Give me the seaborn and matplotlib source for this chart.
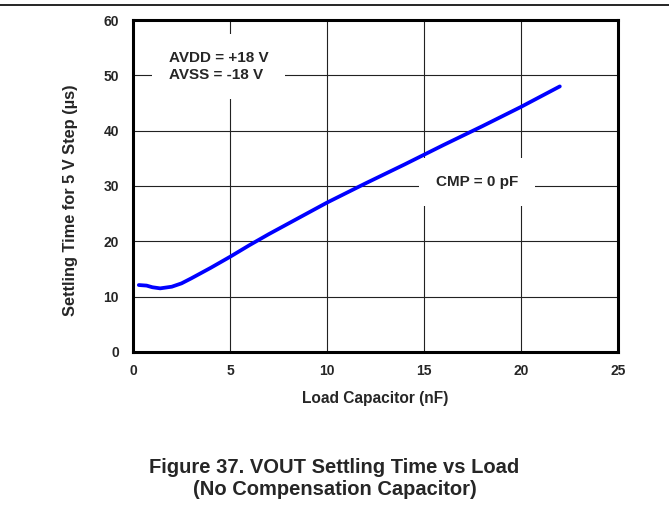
import matplotlib
matplotlib.use("Agg")
import matplotlib.pyplot as plt
import numpy as np
import pandas as pd
import seaborn as sns

# values
load_nf = [0.3, 0.7, 1.0, 1.4, 2.0, 2.5, 3.0, 4.0, 5.0, 6.0, 7.0, 8.0,
           10.0, 12.0, 14.0, 16.0, 18.0, 20.0, 22.0]
settle_us = [12.1, 12.0, 11.7, 11.5, 11.8, 12.4, 13.3, 15.2, 17.2, 19.3, 21.3, 23.2,
             27.0, 30.5, 33.9, 37.4, 40.8, 44.3, 48.0]

x_ticks = [0, 5, 10, 15, 20, 25]
y_ticks = [0, 10, 20, 30, 40, 50, 60]

df = pd.DataFrame({"load": load_nf, "settle": settle_us})

sns.set_style("white")
plt.rcParams["font.family"] = ["Liberation Sans", "DejaVu Sans"]

fig = plt.figure(figsize=(6.69, 5.21), dpi=100)
ax = fig.add_axes([0.1988, 0.3244, 0.725, 0.6372])

sns.lineplot(data=df, x="load", y="settle", color="#0000ff", linewidth=2.7, ax=ax, zorder=7)

ax.set_xlim(0, 25)
ax.set_ylim(0, 60)
ax.set_xticks(x_ticks)
ax.set_yticks(y_ticks)
ax.set_xticklabels([str(t) for t in x_ticks], fontweight="bold", fontsize=10)
ax.set_yticklabels([str(t) for t in y_ticks], fontweight="bold", fontsize=10)
ax.tick_params(axis="y", length=0, pad=10)
ax.tick_params(axis="x", length=0, pad=9)
ax.grid(True, color="#222222", linewidth=0.8)
for sp in ax.spines.values():
    sp.set_visible(True)
    sp.set_color("black")
    sp.set_linewidth(2.2)

ax.set_xlabel("Load Capacitor (nF)", fontweight="bold", fontsize=11.2, labelpad=9)
ax.set_ylabel("Settling Time for 5 V Step (\u00b5s)", fontweight="bold", fontsize=11.8)
ax.yaxis.set_label_coords(-0.113, 0.458)

ax.text(1.86, 51.6, "AVDD = +18 V\nAVSS = -18 V", fontsize=11, fontweight="bold",
        va="center", ha="left", linespacing=1.3, zorder=6,
        bbox=dict(facecolor="white", edgecolor="none", pad=12))
ax.text(15.6, 30.7, "CMP = 0 pF", fontsize=11, fontweight="bold",
        va="center", ha="left", zorder=6,
        bbox=dict(facecolor="white", edgecolor="none", pad=12))

fig.add_artist(plt.Line2D([0, 1], [0.990, 0.990], color="black", linewidth=1.2))
fig.text(0.5, 0.0816, "Figure 37. VOUT Settling Time vs Load\n(No Compensation Capacitor)",
         ha="center", va="center", fontsize=14.5, fontweight="bold", linespacing=1.2)

fig.savefig("out.png", dpi=100)
